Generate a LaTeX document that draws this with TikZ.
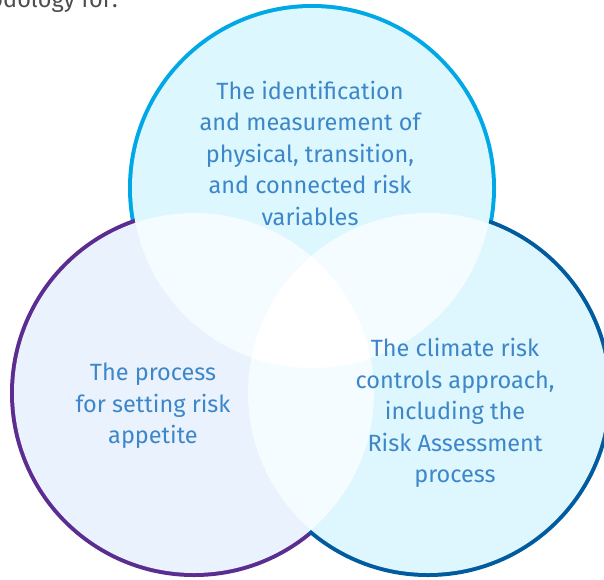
\documentclass[tikz,border=0pt]{standalone}
\usepackage{fontspec}
\setmainfont{Fira Sans}
\definecolor{topstroke}{HTML}{00A8E6}
\definecolor{topfill}{HTML}{DCF7FE}
\definecolor{leftstroke}{HTML}{5C2D91}
\definecolor{leftfill}{HTML}{EAF3FD}
\definecolor{rightstroke}{HTML}{005B9F}
\definecolor{rightfill}{HTML}{DEF6FE}
\definecolor{overlapfill}{HTML}{F5FCFF}
\definecolor{txtblue}{HTML}{3D87C9}
\definecolor{txtgray}{HTML}{4D4D4D}
\tikzset{
  vlabel/.style={text=txtblue, align=center, font=\fontsize{23.5}{31.5}\selectfont, inner sep=0pt},
}
\begin{document}
\begin{tikzpicture}[x=1pt,y=-1pt]
\useasboundingbox (0,0) rectangle (604,579);
\clip (0,0) rectangle (604,579);
\def\topc{(312,188) circle[radius=180]}
\def\leftc{(194,393) circle[radius=180]}
\def\rightc{(428,393) circle[radius=180]}
% strokes (double width, inner half later covered by fills)
\draw[topstroke, line width=8] \topc;
\draw[leftstroke, line width=8] \leftc;
\draw[rightstroke, line width=8] \rightc;
% fills
\fill[leftfill] \leftc;
\fill[rightfill] \rightc;
\fill[topfill] \topc;
% pairwise overlaps
\begin{scope}
  \clip \topc;
  \fill[overlapfill] \leftc;
  \fill[overlapfill] \rightc;
\end{scope}
\begin{scope}
  \clip \leftc;
  \fill[overlapfill] \rightc;
\end{scope}
% triple overlap
\begin{scope}
  \clip \topc;
  \clip \leftc;
  \fill[white] \rightc;
\end{scope}
% texts
\node[text=txtgray, anchor=base east, font=\fontsize{23.5}{31.5}\selectfont, inner sep=0pt] (frag) at (118,7) {methodology for:};
\node[vlabel] (toptext) at (310,153) {The identification\\and measurement of\\physical, transition,\\and connected risk\\variables};
\node[vlabel] (lefttext) at (153,406) {The process\\for setting risk\\appetite};
\node[vlabel] (righttext) at (455,413) {The climate risk\\controls approach,\\including the\\Risk Assessment\\process};
\end{tikzpicture}
\end{document}
